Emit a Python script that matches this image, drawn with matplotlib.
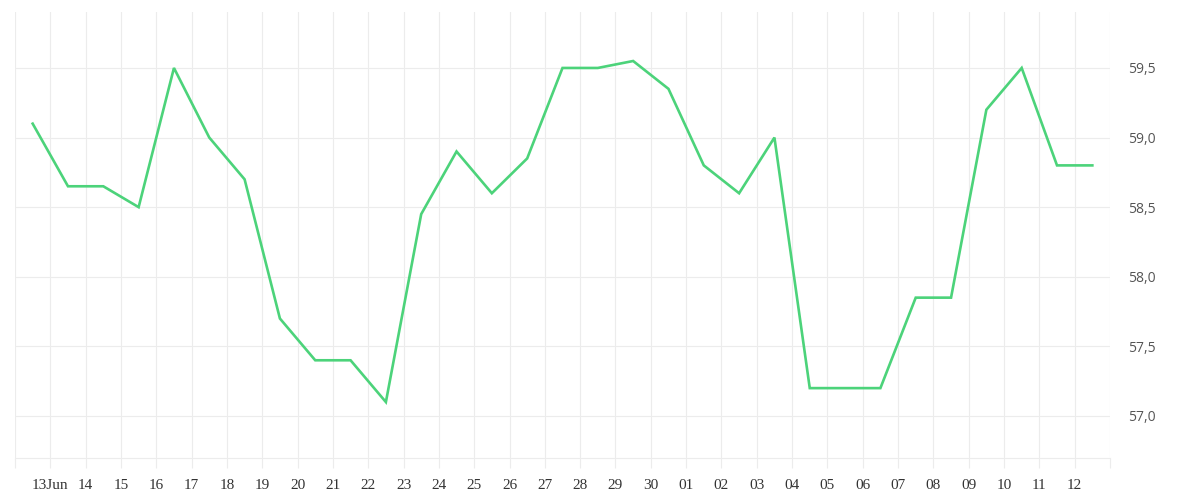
import matplotlib
matplotlib.use("Agg")
import matplotlib.pyplot as plt
import numpy as np
import pandas as pd
from matplotlib.ticker import FuncFormatter

# one value per day, sampled at midday
dates = pd.date_range("2024-06-12 12:00", periods=31, freq="D")
values = [59.1, 58.65, 58.65, 58.5, 59.5, 59.0, 58.7, 57.7, 57.4, 57.4,
          57.1, 58.45, 58.9, 58.6, 58.85, 59.5, 59.5, 59.55, 59.35, 58.8,
          58.6, 59.0, 57.2, 57.2, 57.2, 57.85, 57.85, 59.2, 59.5, 58.8, 58.8]

tick_dates = pd.date_range("2024-06-12", "2024-07-13", freq="D")
tick_labels = ["", "13Jun", "14", "15", "16", "17", "18", "19", "20", "21",
               "22", "23", "24", "25", "26", "27", "28", "29", "30", "01",
               "02", "03", "04", "05", "06", "07", "08", "09", "10", "11",
               "12", ""]
y_ticks = [57.0, 57.5, 58.0, 58.5, 59.0, 59.5]

grid_col = "#ececec"

fig = plt.figure(figsize=(12, 5), dpi=100)
ax = fig.add_axes([15/1200, 42/500, 1095/1200, 446/500])

ax.plot(dates, values, color="#4cd37a", lw=1.9, solid_joinstyle="miter", zorder=3)

ax.set_xlim(tick_dates[0], tick_dates[-1])
ax.set_ylim(56.698, 59.902)

ax.set_xticks(tick_dates)
ax.set_xticklabels(tick_labels)
ax.tick_params(axis="x", length=7.2, width=0.8, color=grid_col, pad=8,
               labelsize=11, labelcolor="#333333", labelfontfamily="Liberation Serif")

ax.yaxis.tick_right()
ax.set_yticks(y_ticks)
ax.yaxis.set_major_formatter(FuncFormatter(lambda v, p: ("%.1f" % v).replace(".", ",")))
ax.tick_params(axis="y", length=0, pad=13, labelsize=10, labelcolor="#555555",
               labelfontfamily="Open Sans")

ax.grid(True, color=grid_col, lw=0.8, zorder=0)
for side in ["top", "left", "right"]:
    ax.spines[side].set_visible(False)
ax.spines["bottom"].set_color(grid_col)
ax.spines["bottom"].set_linewidth(0.8)

fig.savefig("out.png", dpi=100)
